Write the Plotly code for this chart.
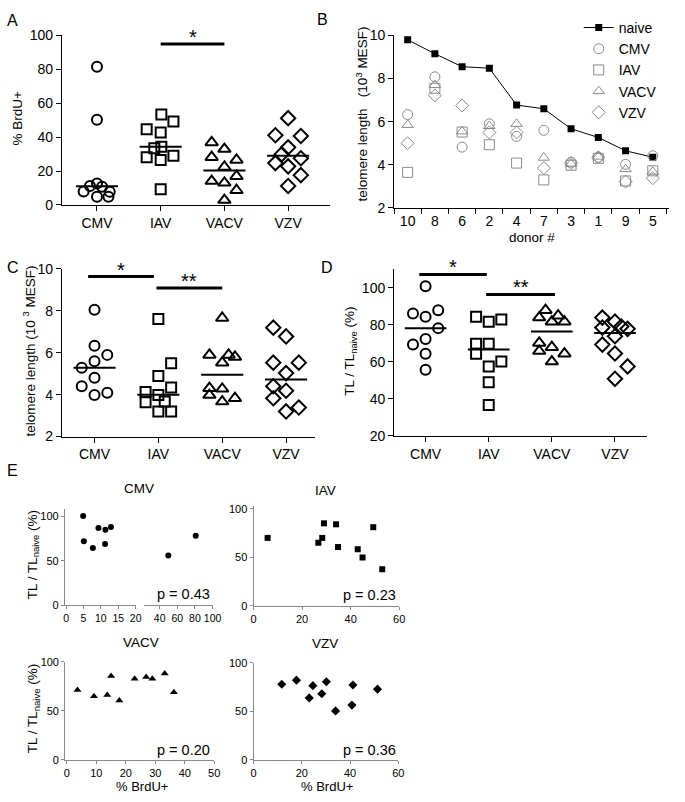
import plotly.graph_objects as go

W, H = 685, 802
FONT = "Liberation Sans, Arial, sans-serif"

groups = ["CMV", "IAV", "VACV", "VZV"]
open_symbols = ["circle-open", "square-open", "triangle-up-open", "diamond-open"]
fill_symbols = ["circle", "square", "triangle-up", "diamond"]

# ---------------- Panel A: % BrdU+ ----------------
a_cmv = [81.5, 50.3, 12.7, 11.2, 10.8, 8.0, 7.8, 4.8, 4.8]
a_iav = [53.3, 49.2, 44.6, 42.7, 34.4, 33.4, 29.0, 28.2, 26.6, 9.3]
a_vacv = [36.9, 33.0, 28.2, 26.6, 22.4, 17.0, 14.1, 13.1, 8.7, 2.9]
a_vzv = [51.2, 41.1, 40.7, 34.0, 29.9, 27.6, 24.7, 22.8, 17.6, 11.2]
a_medians = [11.0, 34.4, 20.3, 29.0]
a_jit_cmv = [0, 0, 0, -0.11, 0.08, -0.21, 0.2, 0, 0.18]
a_jit_iav = [0.01, 0.2, -0.22, 0, 0.01, -0.1, 0.2, -0.22, 0, 0]
a_jit_vacv = [-0.2, 0, -0.2, 0.19, 0, 0.19, -0.2, 0, 0.19, 0]
a_jit_vzv = [0, -0.2, 0.2, 0, -0.1, 0.2, -0.2, 0, 0.2, 0]
a_sig = [(1.0, 2.0, 95.0, "*")]

# ---------------- Panel B: telomere length per donor ----------------
donors = ["10", "8", "6", "2", "4", "7", "3", "1", "9", "5"]
b_naive = [9.8, 9.15, 8.55, 8.48, 6.77, 6.6, 5.67, 5.27, 4.65, 4.35]
b_cmv = [6.33, 8.08, 4.82, 5.9, 5.32, 5.6, 4.12, 4.35, 4.02, 4.42]
b_iav = [3.65, 7.55, 5.52, 4.93, 4.08, 3.3, 3.98, 4.3, 3.25, 3.72]
b_vacv = [5.85, 7.7, 5.55, 5.8, 5.9, 4.33, 4.05, 4.38, 3.8, 3.68]
b_vzv = [5.0, 7.22, 6.75, 5.5, 5.5, 3.85, 4.08, 4.35, 3.22, 3.38]

# ---------------- Panel C: telomere length ----------------
c_cmv = [8.05, 6.34, 5.9, 5.6, 5.28, 4.81, 4.4, 4.09, 3.98]
c_iav = [7.61, 5.5, 4.89, 4.34, 4.13, 3.98, 3.67, 3.64, 3.2, 3.2]
c_vacv = [7.66, 5.9, 5.9, 5.8, 5.53, 4.31, 4.28, 3.98, 3.83, 3.67]
c_vzv = [7.2, 6.78, 5.53, 5.53, 5.03, 4.4, 4.19, 3.83, 3.39, 3.2]
c_medians = [5.28, 4.0, 4.95, 4.72]
c_jit_cmv = [0, 0, 0.2, 0, -0.2, 0, -0.2, 0.2, 0]
c_jit_iav = [0, 0.2, 0, 0.2, -0.2, 0, 0.1, -0.2, 0, 0.2]
c_jit_vacv = [0, -0.2, 0.1, 0.2, 0, -0.2, 0, -0.2, 0.2, 0]
c_jit_vzv = [-0.2, 0, -0.2, 0.2, 0, -0.2, 0, -0.2, 0.2, 0]
c_sig = [(-0.1, 0.93, 9.64, "*"), (0.97, 2.0, 9.09, "**")]

# ---------------- Panel D: TL / TL naive (%) ----------------
d_cmv = [100.9, 88.0, 86.2, 84.5, 78.3, 72.4, 69.4, 64.5, 55.8]
d_iav = [84.5, 83.0, 81.8, 69.8, 69.8, 64.5, 60.2, 57.6, 49.1, 36.7]
d_vacv = [88.0, 85.0, 84.0, 81.8, 81.8, 70.3, 68.0, 65.9, 64.5, 60.2]
d_vzv = [84.0, 81.8, 79.2, 78.6, 77.9, 73.9, 69.4, 64.6, 57.6, 50.9]
d_medians = [78.3, 66.8, 76.5, 75.6]
d_jit_cmv = [0, 0.2, -0.2, 0, 0.2, 0, -0.2, 0, 0]
d_jit_iav = [-0.2, 0.2, 0, -0.2, 0, -0.2, 0.2, 0, 0, 0]
d_jit_vacv = [-0.1, 0.1, -0.2, 0, 0.2, -0.2, 0, -0.2, 0.2, 0]
d_jit_vzv = [-0.2, 0, 0.1, -0.2, 0.2, 0, -0.2, 0, 0.2, 0]
d_sig = [(-0.1, 0.97, 107.3, "*"), (0.96, 2.05, 96.5, "**")]

# ---------------- Panel E: correlations ----------------
e_cmv_brdu = [4.9, 5.1, 7.7, 9.3, 11.2, 11.3, 12.9, 49.8, 80.9]
e_cmv_tl = [100.5, 72.0, 64.5, 87.0, 69.0, 85.0, 88.0, 56.0, 78.3]
e_iav_brdu = [5.8, 26.7, 28.3, 29.0, 34.0, 34.8, 42.9, 44.9, 49.3, 53.0]
e_iav_tl = [70.0, 65.0, 70.0, 85.0, 84.0, 60.6, 58.3, 49.8, 81.0, 37.7]
e_vacv_brdu = [3.6, 9.2, 13.7, 15.0, 17.8, 23.0, 26.9, 29.0, 33.2, 36.3]
e_vacv_tl = [71.3, 65.0, 66.3, 85.7, 60.7, 83.0, 84.7, 83.0, 88.3, 69.0]
e_vzv_brdu = [11.7, 17.8, 23.1, 24.6, 28.3, 30.2, 34.0, 40.8, 41.2, 51.4]
e_vzv_tl = [78.0, 82.3, 64.0, 76.6, 68.3, 80.6, 50.6, 56.6, 77.3, 73.0]
e_pvalues = ["p = 0.43", "p = 0.23", "p = 0.20", "p = 0.36"]


def dxp(a, b):
    return [a / W, b / W]


def dyp(top, bottom):
    return [1 - bottom / H, 1 - top / H]


fig = go.Figure()


def dot_panel(xa, ya, vals_list, jit_list, medians, sig, msize):
    for i, (vals, jit) in enumerate(zip(vals_list, jit_list)):
        fig.add_trace(go.Scatter(
            x=[i + j for j in jit], y=vals, mode="markers", xaxis=xa, yaxis=ya,
            showlegend=False, cliponaxis=False,
            marker=dict(symbol=open_symbols[i], size=msize[i], color="black",
                        line=dict(color="black", width=2))))
        fig.add_trace(go.Scatter(
            x=[i - 0.33, i + 0.33], y=[medians[i], medians[i]], mode="lines",
            xaxis=xa, yaxis=ya, showlegend=False, cliponaxis=False,
            line=dict(color="black", width=2)))
    for (x0, x1, yv, star) in sig:
        fig.add_trace(go.Scatter(
            x=[x0, x1], y=[yv, yv], mode="lines", xaxis=xa, yaxis=ya,
            showlegend=False, cliponaxis=False,
            line=dict(color="black", width=3)))
        fig.add_annotation(x=(x0 + x1) / 2, y=yv, xref=xa, yref=ya, text=star,
                           showarrow=False, yanchor="bottom", yshift=-6,
                           font=dict(size=20, color="black", family=FONT))


sizes = [10, 10, 11, 11]
dot_panel("x", "y", [a_cmv, a_iav, a_vacv, a_vzv],
          [a_jit_cmv, a_jit_iav, a_jit_vacv, a_jit_vzv], a_medians, a_sig, sizes)
dot_panel("x3", "y3", [c_cmv, c_iav, c_vacv, c_vzv],
          [c_jit_cmv, c_jit_iav, c_jit_vacv, c_jit_vzv], c_medians, c_sig, sizes)
dot_panel("x4", "y4", [d_cmv, d_iav, d_vacv, d_vzv],
          [d_jit_cmv, d_jit_iav, d_jit_vacv, d_jit_vzv], d_medians, d_sig, sizes)

# Panel B
fig.add_trace(go.Scatter(
    x=donors, y=b_naive, mode="lines+markers", name="naive", xaxis="x2", yaxis="y2",
    line=dict(color="black", width=1),
    marker=dict(symbol="square", size=7, color="black")))
gray = "#8a8a8a"
for i, (g, vals) in enumerate(zip(groups, [b_cmv, b_iav, b_vacv, b_vzv])):
    fig.add_trace(go.Scatter(
        x=donors, y=vals, mode="markers", name=g, xaxis="x2", yaxis="y2",
        marker=dict(symbol=open_symbols[i], size=10, color=gray,
                    line=dict(color=gray, width=1))))

# Panel E
cut = 20
left = [(x, y) for x, y in zip(e_cmv_brdu, e_cmv_tl) if x <= cut]
right = [(x, y) for x, y in zip(e_cmv_brdu, e_cmv_tl) if x > cut]
emk = dict(color="black", size=6)
fig.add_trace(go.Scatter(x=[p[0] for p in left], y=[p[1] for p in left], mode="markers",
                         xaxis="x5", yaxis="y5", showlegend=False, cliponaxis=False,
                         marker=dict(symbol="circle", **emk)))
fig.add_trace(go.Scatter(x=[p[0] for p in right], y=[p[1] for p in right], mode="markers",
                         xaxis="x6", yaxis="y5", showlegend=False, cliponaxis=False,
                         marker=dict(symbol="circle", **emk)))
fig.add_trace(go.Scatter(x=e_iav_brdu, y=e_iav_tl, mode="markers", xaxis="x7", yaxis="y7",
                         showlegend=False, cliponaxis=False,
                         marker=dict(symbol="square", **emk)))
fig.add_trace(go.Scatter(x=e_vacv_brdu, y=e_vacv_tl, mode="markers", xaxis="x8", yaxis="y8",
                         showlegend=False, cliponaxis=False,
                         marker=dict(symbol="triangle-up", color="black", size=7)))
fig.add_trace(go.Scatter(x=e_vzv_brdu, y=e_vzv_tl, mode="markers", xaxis="x9", yaxis="y9",
                         showlegend=False, cliponaxis=False,
                         marker=dict(symbol="diamond", color="black", size=7)))

base = dict(showgrid=False, zeroline=False, showline=True, linecolor="black", linewidth=1,
            ticks="outside", ticklen=5, tickwidth=1, tickcolor="black",
            tickfont=dict(size=14, color="black", family=FONT))
ebase = dict(showgrid=False, zeroline=False, showline=True, linecolor="#888888", linewidth=1,
             ticks="outside", ticklen=3, tickwidth=1, tickcolor="#888888", tickangle=0,
             tickfont=dict(size=11, color="black", family=FONT))

cat_ticks = dict(tickmode="array", tickvals=[0, 1, 2, 3], ticktext=groups)

fig.update_layout(
    width=W, height=H, margin=dict(l=0, r=0, t=0, b=0),
    paper_bgcolor="white", plot_bgcolor="white",
    font=dict(family=FONT, color="black"),
    xaxis=dict(base, domain=dxp(60, 333), range=[-0.55, 3.66], anchor="y", **cat_ticks),
    yaxis=dict(base, domain=dyp(28, 201), range=[0, 100], dtick=20, anchor="x"),
    xaxis2=dict(base, domain=dxp(398, 678), type="category", categoryorder="array",
                categoryarray=donors, range=[-0.5, 9.6], tickson="boundaries", anchor="y2"),
    yaxis2=dict(base, domain=dyp(28, 204), range=[2, 10], dtick=2, anchor="x2"),
    xaxis3=dict(base, domain=dxp(60, 318), range=[-0.51, 3.46], anchor="y3", **cat_ticks),
    yaxis3=dict(base, domain=dyp(266.3, 437.3), range=[2, 10], dtick=2, anchor="x3"),
    xaxis4=dict(base, domain=dxp(398, 655), range=[-0.5, 3.5], anchor="y4", **cat_ticks),
    yaxis4=dict(base, domain=dyp(266.8, 436.7), range=[20, 110],
                tickvals=[20, 40, 60, 80, 100], anchor="x4"),
    xaxis5=dict(ebase, domain=dxp(63, 135), range=[-0.35, 20], tickvals=[0, 5, 10, 15, 20], anchor="y5"),
    xaxis6=dict(ebase, domain=dxp(143.3, 213.3), range=[22, 100], tickvals=[40, 60, 80, 100], anchor="y5"),
    yaxis5=dict(ebase, domain=dyp(511.5, 609.3), range=[0, 108], tickvals=[0, 50, 100], anchor="x5"),
    xaxis7=dict(ebase, domain=dxp(255, 403.3), range=[0, 60], tickvals=[0, 20, 40, 60], anchor="y7"),
    yaxis7=dict(ebase, domain=dyp(508, 610), range=[0, 103], tickvals=[0, 50, 100], anchor="x7"),
    xaxis8=dict(ebase, domain=dxp(63.3, 215), range=[-0.57, 50], tickvals=[0, 10, 20, 30, 40, 50], anchor="y8"),
    yaxis8=dict(ebase, domain=dyp(667.3, 767.3), range=[0, 100], tickvals=[0, 50, 100], anchor="x8"),
    xaxis9=dict(ebase, domain=dxp(255, 402.3), range=[0, 60], tickvals=[0, 20, 40, 60], anchor="y9"),
    yaxis9=dict(ebase, domain=dyp(668.3, 767.3), range=[0, 100], tickvals=[0, 50, 100], anchor="x9"),
    legend=dict(x=586 / W, y=1 - 4 / H, xanchor="left", yanchor="top",
                font=dict(size=14, color="black", family=FONT),
                bgcolor="rgba(0,0,0,0)", tracegroupgap=0, itemwidth=30),
)
fig.update_xaxes(selector=dict(anchor="y5"), tickfont=dict(size=10.5))


def ann(x, y, text, size=13, angle=0, xanchor="center", yanchor="middle"):
    fig.add_annotation(x=x / W, y=1 - y / H, xref="paper", yref="paper", text=text,
                       showarrow=False, textangle=angle, xanchor=xanchor, yanchor=yanchor,
                       font=dict(size=size, color="black", family=FONT))


# panel letters
ann(10, 13, "A", 16)
ann(325, 12, "B", 16)
ann(10, 265, "C", 16)
ann(330, 265, "D", 16)
ann(10, 472, "E", 16)

# axis titles
ann(15, 112, "% BrdU+", 13.5, -90)
ann(365, 108, "telomere length   (10<sup>3</sup> MESF)", 13.5, -90)
ann(538, 234, "donor #", 13.5)
ann(27, 350, "telomere length (10 <sup>3</sup> MESF)", 13.5, -90)
ann(353, 350, "TL / TL<sub>naive</sub> (%)", 13.5, -90)
ann(31, 558, "TL / TL<sub>naive</sub> (%)", 13.5, -90)
ann(31, 715, "TL / TL<sub>naive</sub> (%)", 13.5, -90)
ann(141, 794, "% BrdU+", 13)
ann(330, 794, "% BrdU+", 13)

# E subtitles
ann(138, 490, groups[0], 13.5)
ann(328, 492, groups[1], 13.5)
ann(140, 647, groups[2], 13.5)
ann(328, 648, groups[3], 13.5)

# p values
ann(213, 598, e_pvalues[0], 14.5, xanchor="right")
ann(402, 599, e_pvalues[1], 14.5, xanchor="right")
ann(213, 757, e_pvalues[2], 14.5, xanchor="right")
ann(402, 757, e_pvalues[3], 14.5, xanchor="right")

fig.write_html("out.html", config={"displayModeBar": False},
               post_script="document.body.style.margin='0px';document.body.style.overflow='hidden';")
